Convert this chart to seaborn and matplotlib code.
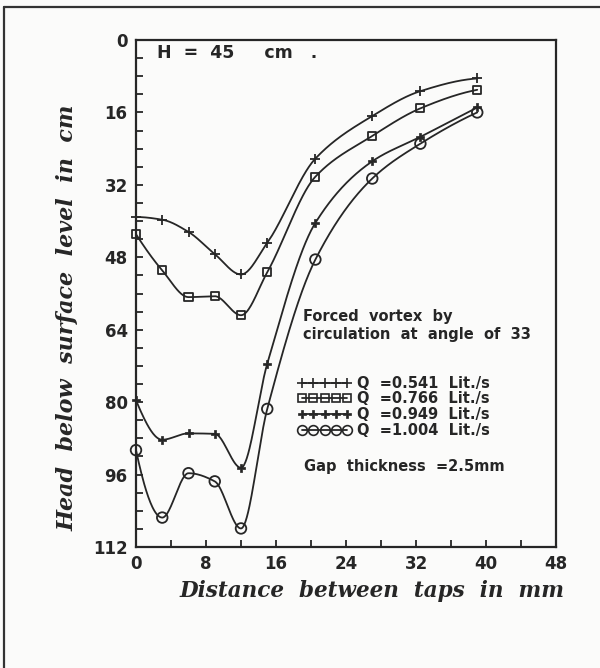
import numpy as np
import pandas as pd
import matplotlib
matplotlib.use("Agg")
import matplotlib.pyplot as plt
from matplotlib.lines import Line2D
import seaborn as sns

# ---- data ----
tap_x = [0, 3, 6, 9, 12, 15, 20.5, 27, 32.5, 39]
head_q0541 = [39.1, 39.7, 42.4, 47.3, 51.8, 44.8, 26.2, 16.8, 11.3, 8.5]
head_q0766 = [42.9, 50.9, 56.8, 56.6, 60.8, 51.3, 30.2, 21.2, 15.1, 11.0]
head_q0949 = [79.6, 88.3, 86.9, 87.0, 94.5, 71.5, 40.4, 26.8, 21.4, 14.9]
head_q1004 = [90.6, 105.5, 95.7, 97.5, 107.9, 81.5, 48.5, 30.6, 22.9, 16.0]
series_labels = ["Q  =0.541  Lit./s", "Q  =0.766  Lit./s",
                 "Q  =0.949  Lit./s", "Q  =1.004  Lit./s"]
x_ticks = [0, 8, 16, 24, 32, 40, 48]
y_ticks = [0, 16, 32, 48, 64, 80, 96, 112]

INK = "#262626"
BG = "#fbfbfa"

sns.set_theme(style="white")
plt.rcParams["font.family"] = ["DejaVu Sans"]


def pchip(x, y, xs):
    """Shape-preserving piecewise cubic (Fritsch-Carlson) for a smooth drawn line."""
    x = np.asarray(x, float); y = np.asarray(y, float)
    h = np.diff(x); d = np.diff(y) / h
    n = len(x)
    m = np.zeros(n)
    for k in range(1, n - 1):
        if d[k - 1] * d[k] > 0:
            w1 = 2 * h[k] + h[k - 1]
            w2 = h[k] + 2 * h[k - 1]
            m[k] = (w1 + w2) / (w1 / d[k - 1] + w2 / d[k])
    def end_slope(h0, h1, d0, d1):
        s = ((2 * h0 + h1) * d0 - h0 * d1) / (h0 + h1)
        if np.sign(s) != np.sign(d0):
            s = 0.0
        elif np.sign(d0) != np.sign(d1) and abs(s) > abs(3 * d0):
            s = 3 * d0
        return s
    m[0] = end_slope(h[0], h[1], d[0], d[1])
    m[-1] = end_slope(h[-1], h[-2], d[-1], d[-2])
    idx = np.clip(np.searchsorted(x, xs) - 1, 0, n - 2)
    t = (xs - x[idx]) / h[idx]
    h00 = 2 * t ** 3 - 3 * t ** 2 + 1
    h10 = t ** 3 - 2 * t ** 2 + t
    h01 = -2 * t ** 3 + 3 * t ** 2
    h11 = t ** 3 - t ** 2
    return (h00 * y[idx] + h10 * h[idx] * m[idx]
            + h01 * y[idx + 1] + h11 * h[idx] * m[idx + 1])


all_series = [head_q0541, head_q0766, head_q0949, head_q1004]
xs = np.linspace(min(tap_x), max(tap_x), 500)
curve_rows = []
point_rows = []
for lab, vals in zip(series_labels, all_series):
    ys = pchip(tap_x, vals, xs)
    curve_rows.append(pd.DataFrame({"x": xs, "y": ys, "series": lab}))
    point_rows.append(pd.DataFrame({"x": tap_x, "y": vals, "series": lab}))
curves = pd.concat(curve_rows, ignore_index=True)
points = pd.concat(point_rows, ignore_index=True)

fig = plt.figure(figsize=(6.0, 6.68), dpi=100, facecolor=BG)
ax = fig.add_axes([136 / 600, 1 - 547 / 668, (556 - 136) / 600, (547 - 40) / 668])
ax.set_facecolor(BG)

sns.lineplot(data=curves, x="x", y="y", units="series", estimator=None,
             sort=False, color=INK, linewidth=1.3, ax=ax, legend=False)

marker_specs = [
    dict(marker="+", s=60, color=INK, linewidths=1.3),
    dict(marker="s", s=34, facecolors="none", edgecolors=INK, linewidths=1.3),
    dict(marker="P", s=40, color=INK, edgecolors=INK, linewidths=0.5),
    dict(marker="o", s=58, facecolors="none", edgecolors=INK, linewidths=1.3),
]
for lab, spec in zip(series_labels, marker_specs):
    sub = points[points["series"] == lab]
    sns.scatterplot(data=sub, x="x", y="y", ax=ax, legend=False, zorder=3,
                    clip_on=False, **spec)

ax.set_xlim(0, 48)
ax.set_ylim(112, 0)
ax.set_xticks(x_ticks)
ax.set_yticks(y_ticks)
ax.set_xticks(np.arange(0, 49, 4), minor=True)
ax.set_yticks(np.arange(0, 113, 4), minor=True)
ax.tick_params(axis="both", which="both", direction="in", length=5, width=1.3,
               color=INK, bottom=True, left=True, top=False, right=False)
ax.tick_params(axis="both", which="major", labelsize=12, labelcolor=INK, pad=6)
for lbl in ax.get_xticklabels() + ax.get_yticklabels():
    lbl.set_fontweight("bold")
for sp in ax.spines.values():
    sp.set_visible(True)
    sp.set_color(INK)
    sp.set_linewidth(1.6)

ax.set_xlabel("Distance  between  taps  in  mm", fontsize=15.5, fontstyle="italic",
              fontweight="bold", family="DejaVu Serif", color=INK)
ax.set_ylabel("Head  below  surface  level  in  cm", fontsize=16, fontstyle="italic",
              fontweight="bold", family="DejaVu Serif", color=INK)
ax.xaxis.set_label_coords(0.562, -0.066)
ax.yaxis.set_label_coords(-0.137, 0.452)

ax.text(2.4, 2.8, "H  =  45     cm   .", fontsize=12.5, fontweight="bold", color=INK,
        va="center", ha="left")
ax.text(19.1, 63.1, "Forced  vortex  by\ncirculation  at  angle  of  33", fontsize=10.5,
        fontweight="bold", color=INK, va="center", ha="left", linespacing=1.25)
ax.text(19.2, 94.2, "Gap  thickness  =2.5mm", fontsize=10.5, fontweight="bold",
        color=INK, va="center", ha="left")

handles = [
    Line2D([], [], color=INK, lw=1.3, marker="+", ms=7, mew=1.2),
    Line2D([], [], color=INK, lw=1.3, marker="s", ms=5.5, mfc="none", mew=1.2),
    Line2D([], [], color=INK, lw=1.3, marker="P", ms=6, mfc=INK, mew=0.5),
    Line2D([], [], color=INK, lw=1.3, marker="o", ms=7, mfc="none", mew=1.2),
]
leg = ax.legend(handles, series_labels, loc="upper left", bbox_to_anchor=(0.385, 0.338),
                frameon=False, numpoints=5, handlelength=3.7, handletextpad=0.4,
                labelspacing=0.05, borderpad=0, borderaxespad=0,
                prop={"size": 10.5, "weight": "bold"})
for t in leg.get_texts():
    t.set_color(INK)

# outer frame of the scanned page (top and left edges)
fig.add_artist(Line2D([4 / 600, 1.0], [1 - 7 / 668, 1 - 7 / 668], color="#333333", lw=1.6))
fig.add_artist(Line2D([4 / 600, 4 / 600], [1 - 7 / 668, 0.0], color="#333333", lw=1.6))

fig.savefig("out.png", dpi=100, facecolor=BG)
